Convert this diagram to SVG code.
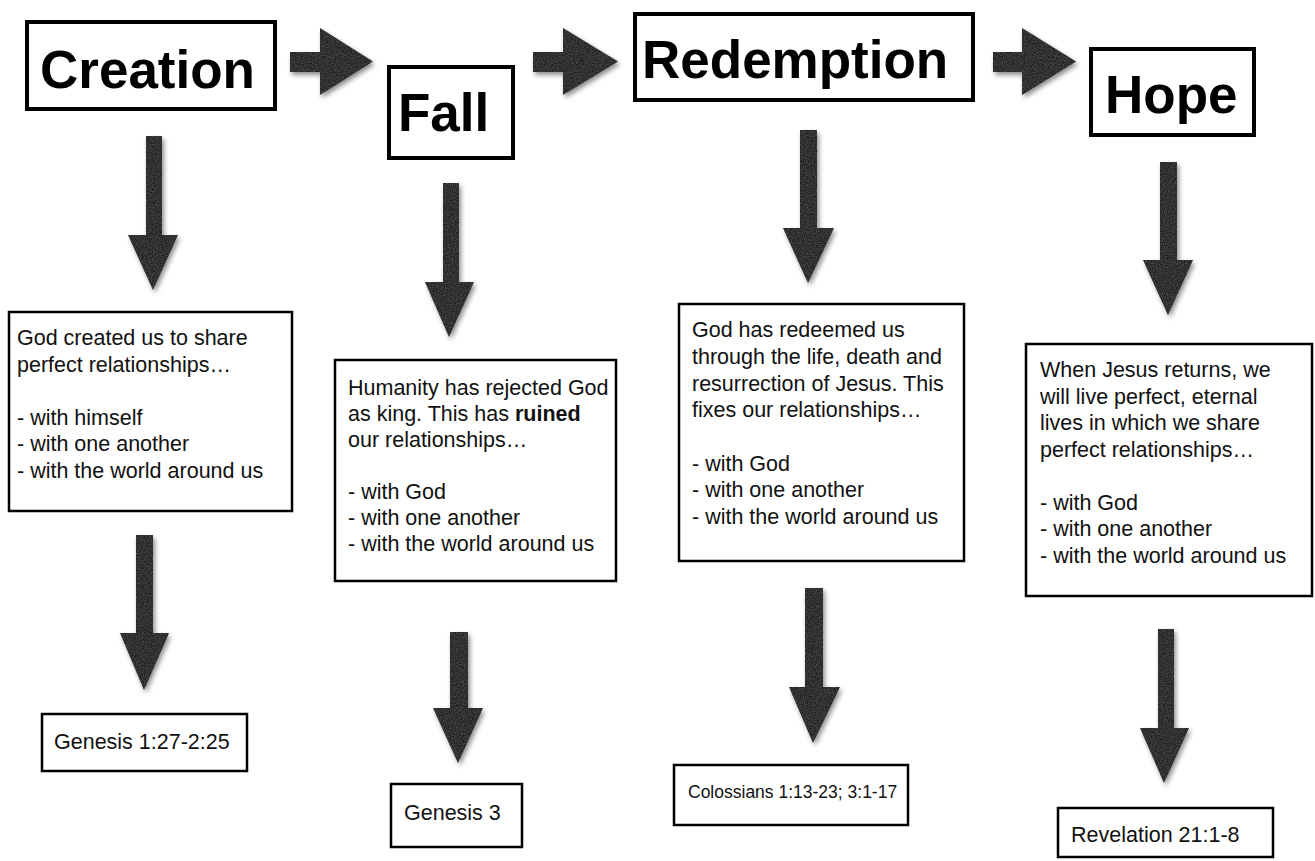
<svg xmlns="http://www.w3.org/2000/svg" width="1315" height="861" viewBox="0 0 1315 861">
<defs>
<filter id="shadow" x="-30%" y="-30%" width="160%" height="160%">
<feTurbulence type="fractalNoise" baseFrequency="0.9" numOctaves="2" seed="3" result="n"/>
<feColorMatrix in="n" type="matrix" values="0 0 0 0 0.2  0 0 0 0 0.2  0 0 0 0 0.2  0 0 0 0.6 -0.2" result="nc"/>
<feComposite in="nc" in2="SourceGraphic" operator="in" result="tex"/>
<feGaussianBlur in="SourceAlpha" stdDeviation="2.5" result="b"/>
<feOffset in="b" dx="2" dy="3" result="o"/>
<feComponentTransfer in="o" result="s"><feFuncA type="linear" slope="0.45"/></feComponentTransfer>
<feMerge><feMergeNode in="s"/><feMergeNode in="SourceGraphic"/><feMergeNode in="tex"/></feMerge>
</filter>
<style>
.hbox{fill:#fff;stroke:#000;stroke-width:4}
.tbox{fill:#fff;stroke:#000;stroke-width:2.5}
.title{font-family:"Liberation Sans",Arial,sans-serif;font-weight:bold;font-size:53px;fill:#000}
.body{font-family:"Liberation Sans",Arial,sans-serif;font-size:21.5px;fill:#111}
.small{font-size:17.5px}
.arrow{fill:#202020;filter:url(#shadow)}
</style>
</defs>
<rect width="1315" height="861" fill="#fff"/>

<g id="connectors">
<path class="arrow" d="M290,52 H320 V28 L373,61.5 L320,95 V72 H290 Z"/>
<path class="arrow" d="M533,52 H563 V28 L618,61.5 L563,95 V72 H533 Z"/>
<path class="arrow" d="M993,52 H1022 V28 L1076,61.5 L1022,95 V72 H993 Z"/>
<path class="arrow" d="M146,136 H162 V235 H178 L153,290 L128,235 H146 Z"/>
<path class="arrow" d="M136,535 H153 V633 H169 L144,690 L120,633 H136 Z"/>
<path class="arrow" d="M443,183 H459 V282 H474 L449,337 L425,282 H443 Z"/>
<path class="arrow" d="M450,632 H468 V708 H483 L458,763 L433,708 H450 Z"/>
<path class="arrow" d="M800,130 H817 V228 H834 L808,283 L783,228 H800 Z"/>
<path class="arrow" d="M805,588 H823 V687 H840 L813,743 L789,687 H805 Z"/>
<path class="arrow" d="M1160,162 H1177 V260 H1193 L1168,315 L1143,260 H1160 Z"/>
<path class="arrow" d="M1158,629 H1174 V728 H1189 L1164,783 L1140,728 H1158 Z"/>
</g>

<g id="creation">
<rect class="hbox" x="27" y="22" width="248" height="87"/>
<text class="title" x="40" y="88">Creation</text>
</g>
<g id="fall">
<rect class="hbox" x="389" y="67" width="124" height="91"/>
<text class="title" x="398" y="131">Fall</text>
</g>
<g id="redemption">
<rect class="hbox" x="635" y="14" width="338" height="86"/>
<text class="title" x="642" y="78">Redemption</text>
</g>
<g id="hope">
<rect class="hbox" x="1091" y="49" width="163" height="86"/>
<text class="title" x="1105" y="113">Hope</text>
</g>

<g id="creation-text">
<rect class="tbox" x="9" y="312" width="283" height="199"/>
<text class="body">
<tspan x="17" y="345">God created us to share</tspan>
<tspan x="17" y="371.5">perfect relationships…</tspan>
<tspan x="17" y="424.5">- with himself</tspan>
<tspan x="17" y="451">- with one another</tspan>
<tspan x="17" y="477.5">- with the world around us</tspan>
</text>
</g>
<g id="fall-text">
<rect class="tbox" x="335" y="360" width="281" height="221"/>
<text class="body">
<tspan x="348" y="395">Humanity has rejected God</tspan>
<tspan x="348" y="421">as king. This has <tspan font-weight="bold">ruined</tspan></tspan>
<tspan x="348" y="447">our relationships…</tspan>
<tspan x="348" y="499">- with God</tspan>
<tspan x="348" y="525">- with one another</tspan>
<tspan x="348" y="551">- with the world around us</tspan>
</text>
</g>
<g id="redemption-text">
<rect class="tbox" x="679" y="304" width="285" height="257"/>
<text class="body">
<tspan x="692" y="337">God has redeemed us</tspan>
<tspan x="692" y="364">through the life, death and</tspan>
<tspan x="692" y="390.5">resurrection of Jesus. This</tspan>
<tspan x="692" y="417">fixes our relationships…</tspan>
<tspan x="692" y="470.5">- with God</tspan>
<tspan x="692" y="497">- with one another</tspan>
<tspan x="692" y="523.5">- with the world around us</tspan>
</text>
</g>
<g id="hope-text">
<rect class="tbox" x="1026" y="344" width="286" height="252"/>
<text class="body">
<tspan x="1040" y="377">When Jesus returns, we</tspan>
<tspan x="1040" y="403.5">will live perfect, eternal</tspan>
<tspan x="1040" y="430">lives in which we share</tspan>
<tspan x="1040" y="456.5">perfect relationships…</tspan>
<tspan x="1040" y="509.5">- with God</tspan>
<tspan x="1040" y="536">- with one another</tspan>
<tspan x="1040" y="562.5">- with the world around us</tspan>
</text>
</g>

<g id="genesis1">
<rect class="tbox" x="42" y="714" width="205" height="57"/>
<text class="body" x="54" y="749">Genesis 1:27-2:25</text>
</g>
<g id="genesis3">
<rect class="tbox" x="391" y="784" width="131" height="63"/>
<text class="body" x="404" y="820">Genesis 3</text>
</g>
<g id="colossians">
<rect class="tbox" x="674" y="765" width="234" height="60"/>
<text class="body small" x="688" y="798">Colossians 1:13-23; 3:1-17</text>
</g>
<g id="revelation">
<rect class="tbox" x="1058" y="808" width="215" height="49"/>
<text class="body" x="1071" y="842">Revelation 21:1-8</text>
</g>
</svg>
